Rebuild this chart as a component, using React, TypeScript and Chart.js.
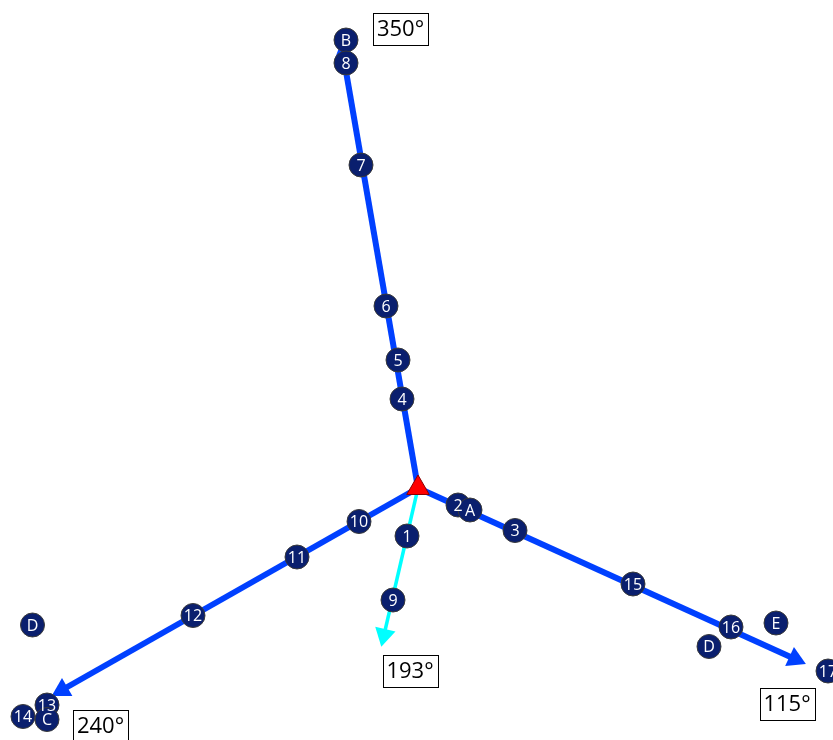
import React, { useEffect, useRef } from "react";
import { Chart, registerables } from "chart.js";

Chart.register(...registerables);

// Coordinates are east / north offsets from the origin station.
const ORIGIN = { x: 0, y: 0 };

// Survey lines (bearing in degrees, end point of the line)
const LINE_BEARINGS = [350, 115, 240, 193];
const LINE_END_X = [-75, 377, -356, -34];
const LINE_END_Y = [434, -171, -202, -147];
const LINE_COLORS = ["#0040ff", "#0040ff", "#0040ff", "#00ffff"];
const LINE_WIDTHS = [6, 6, 6, 3.5];

// Bearing label boxes
const LABEL_X = [-17.5, 369, -317.5, -8];
const LABEL_Y = [459, -216, -238, -182.5];

// Numbered / lettered markers
const MARKER_LABELS = ["1", "2", "A", "3", "4", "5", "6", "7", "B", "8", "9", "10", "11", "12", "14", "13", "C", "D", "15", "D", "16", "E", "17"];
const MARKER_X = [-11, 40, 52, 97, -16, -20, -32, -57, -72, -72, -25, -59, -121, -225, -395, -371, -371, -385.5, 215, 291, 313, 358, 410];
const MARKER_Y = [-48, -17, -22, -42.5, 89, 128, 182, 323, 448, 425, -112, -33.5, -69, -127.5, -228.5, -217, -231.5, -137, -96, -158.5, -139, -135, -183];

const FONT = "'Open Sans', 'DejaVu Sans', sans-serif";

const markerTextPlugin = {
  id: "markerText",
  afterDatasetsDraw(chart: any) {
    const ctx = chart.ctx;
    // marker text
    const meta = chart.getDatasetMeta(0);
    ctx.save();
    ctx.fillStyle = "#ffffff";
    ctx.font = `16px ${FONT}`;
    ctx.textAlign = "center";
    ctx.textBaseline = "middle";
    meta.data.forEach((el: any, i: number) => {
      ctx.fillText(MARKER_LABELS[i], el.x, el.y + 1);
    });
    ctx.restore();

    // bearing label boxes
    const xs = chart.scales.x;
    const ys = chart.scales.y;
    ctx.save();
    ctx.font = `22px ${FONT}`;
    ctx.textAlign = "center";
    ctx.textBaseline = "middle";
    LINE_BEARINGS.forEach((b, i) => {
      const cx = xs.getPixelForValue(LABEL_X[i]);
      const cy = ys.getPixelForValue(LABEL_Y[i]);
      const w = 55;
      const h = 32;
      ctx.fillStyle = "#ffffff";
      ctx.fillRect(cx - w / 2, cy - h / 2, w, h);
      ctx.strokeStyle = "#000000";
      ctx.lineWidth = 1;
      ctx.strokeRect(Math.round(cx - w / 2) + 0.5, Math.round(cy - h / 2) + 0.5, w, h);
      ctx.fillStyle = "#000000";
      ctx.fillText(`${b}°`, cx, cy + 1);
    });
    ctx.restore();
  },
};

export default function App() {
  const ref = useRef<HTMLCanvasElement | null>(null);

  useEffect(() => {
    if (!ref.current) return;
    const lineSets = LINE_BEARINGS.map((b, i) => ({
      type: "line" as const,
      data: [
        { x: ORIGIN.x, y: ORIGIN.y },
        { x: LINE_END_X[i], y: LINE_END_Y[i] },
      ],
      borderColor: LINE_COLORS[i],
      backgroundColor: LINE_COLORS[i],
      borderWidth: LINE_WIDTHS[i],
      showLine: true,
      pointStyle: "triangle",
      pointRadius: [0, 12],
      pointRotation: [0, b],
      pointBorderWidth: 0,
      pointBackgroundColor: LINE_COLORS[i],
      order: 10 + i,
      clip: false,
    }));

    const chart = new Chart(ref.current, {
      type: "scatter",
      data: {
        datasets: [
          {
            data: MARKER_X.map((x, i) => ({ x, y: MARKER_Y[i] })),
            pointRadius: 12,
            pointBackgroundColor: "#0a1f6e",
            pointBorderColor: "#3a3a3a",
            pointBorderWidth: 1,
            order: 0,
            clip: false,
          } as any,
          {
            data: [{ x: ORIGIN.x, y: ORIGIN.y }],
            pointStyle: "triangle",
            pointRadius: 13,
            pointBackgroundColor: "#ff0000",
            pointBorderColor: "#8a0000",
            pointBorderWidth: 1,
            order: 1,
            clip: false,
          } as any,
          ...(lineSets as any[]),
        ],
      },
      options: {
        animation: false,
        responsive: false,
        layout: { padding: 0, autoPadding: false },
        plugins: {
          legend: { display: false },
          tooltip: { enabled: false },
        },
        scales: {
          x: { type: "linear", min: -418, max: 415, display: false },
          y: { type: "linear", min: -252, max: 488, display: false },
        },
      },
      plugins: [markerTextPlugin],
    });
    return () => chart.destroy();
  }, []);

  return (
    <div style={{ position: "fixed", left: 0, top: 0, width: 833, height: 740, background: "#fff" }}>
      <canvas ref={ref} width={833} height={740} style={{ display: "block", width: 833, height: 740 }} />
    </div>
  );
}
